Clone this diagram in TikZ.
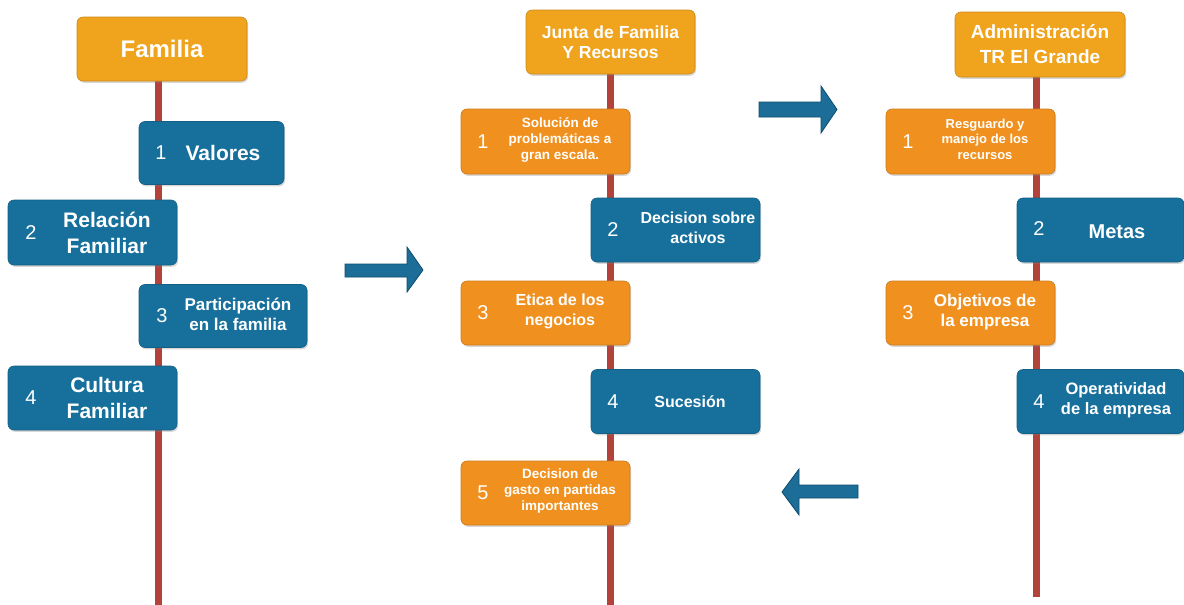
\documentclass[tikz,border=0pt]{standalone}
\usepackage{fontspec}
\setmainfont{Liberation Sans}
\usetikzlibrary{shadows}
\pgfdeclarelayer{background}
\pgfdeclarelayer{paper}
\pgfsetlayers{paper,background,main}
\definecolor{hdr}{HTML}{F0A31C}
\definecolor{org}{HTML}{F0911F}
\definecolor{blu}{HTML}{17709C}
\definecolor{rline}{HTML}{B3433A}
\definecolor{arrfill}{HTML}{1C6E98}
\definecolor{arredge}{HTML}{0E4C6E}
\newcommand\myfs[2]{\fontsize{#1}{#2}\selectfont\bfseries}
\tikzset{
  card/.style={rounded corners=6pt, inner sep=0pt, draw=#1!85!black, line width=0.6pt, fill=#1,
    drop shadow={shadow xshift=1.2pt, shadow yshift=-1.8pt, opacity=0.3}},
  num/.style={text=white, inner sep=0pt, font=\fontsize{20}{24}\selectfont},
  lbl/.style={text=white, inner sep=0pt, align=center},
  stem/.style={draw=rline, line width=7pt},
  bigarrow/.style={fill=arrfill, draw=arredge, line width=0.8pt, line join=miter}
}
\begin{document}
\begin{tikzpicture}[x=1pt,y=-1pt]
\begin{pgfonlayer}{paper}
\fill[white] (0,0) rectangle (1184,605);
\end{pgfonlayer}
\useasboundingbox (0,0) rectangle (1184,605);

% ---------- Column 1 ----------
\node[card=hdr, minimum width=170pt, minimum height=64pt, lbl, font=\myfs{24}{28}] (h1) at (162,49) {Familia};
\node[card=blu, minimum width=145pt, minimum height=63pt] (a1) at (211.5,153) {};
\node[num] (a1n) at (161,153) {1};
\node[lbl, font=\myfs{21}{26}] (a1t) at (223,153) {Valores};
\node[card=blu, minimum width=169pt, minimum height=65pt] (a2) at (92.5,232.5) {};
\node[num] (a2n) at (31,232.5) {2};
\node[lbl, font=\myfs{21}{26}] (a2t) at (107,232.5) {Relación\\Familiar};
\node[card=blu, minimum width=168pt, minimum height=63pt] (a3) at (223,316) {};
\node[num] (a3n) at (162,316) {3};
\node[lbl, font=\myfs{17}{20}] (a3t) at (238,314) {Participación\\en la familia};
\node[card=blu, minimum width=169pt, minimum height=64pt] (a4) at (92.5,398) {};
\node[num] (a4n) at (31,398) {4};
\node[lbl, font=\myfs{21}{26}] (a4t) at (107,398) {Cultura\\Familiar};
\coordinate (e1) at (158,605);

% ---------- Column 2 ----------
\node[card=hdr, minimum width=169pt, minimum height=64pt, lbl, font=\myfs{17.5}{20.5}] (h2) at (610.5,42) {Junta de Familia\\Y Recursos};
\node[card=org, minimum width=169pt, minimum height=65pt] (b1) at (545.5,141.5) {};
\node[num] (b1n) at (483,141.5) {1};
\node[lbl, font=\myfs{13.5}{16}] (b1t) at (560,140) {Solución de\\problemáticas a\\gran escala.};
\node[card=blu, minimum width=169pt, minimum height=64pt] (b2) at (675.5,230) {};
\node[num] (b2n) at (613,230) {2};
\node[lbl, font=\myfs{16}{20}] (b2t) at (698,228) {Decision sobre\\activos};
\node[card=org, minimum width=169pt, minimum height=64pt] (b3) at (545.5,313) {};
\node[num] (b3n) at (483,313) {3};
\node[lbl, font=\myfs{16}{20}] (b3t) at (560,311) {Etica de los\\negocios};
\node[card=blu, minimum width=169pt, minimum height=64pt] (b4) at (675.5,401.5) {};
\node[num] (b4n) at (613,401.5) {4};
\node[lbl, font=\myfs{16}{20}] (b4t) at (690,401.5) {Sucesión};
\node[card=org, minimum width=169pt, minimum height=64pt] (b5) at (545.5,493) {};
\node[num] (b5n) at (483,493) {5};
\node[lbl, font=\myfs{13.5}{16}] (b5t) at (560,491) {Decision de\\gasto en partidas\\importantes};
\coordinate (e2) at (610,605);

% ---------- Column 3 ----------
\node[card=hdr, minimum width=170pt, minimum height=65pt, lbl, font=\myfs{19}{25}] (h3) at (1040,44.5) {Administración\\TR El Grande};
\node[card=org, minimum width=169pt, minimum height=65pt] (c1) at (970.5,141.5) {};
\node[num] (c1n) at (908,141.5) {1};
\node[lbl, font=\myfs{13}{15.5}] (c1t) at (985,139) {Resguardo y\\manejo de los\\recursos};
\node[card=blu, minimum width=167pt, minimum height=64pt] (c2) at (1100.5,230) {};
\node[num] (c2n) at (1039,229) {2};
\node[lbl, font=\myfs{20}{24}] (c2t) at (1117,232) {Metas};
\node[card=org, minimum width=169pt, minimum height=64pt] (c3) at (970.5,313) {};
\node[num] (c3n) at (908,313) {3};
\node[lbl, font=\myfs{17}{20}] (c3t) at (985,312) {Objetivos de\\la empresa};
\node[card=blu, minimum width=167pt, minimum height=64pt] (c4) at (1100.5,401.5) {};
\node[num] (c4n) at (1039,401.5) {4};
\node[lbl, font=\myfs{16.5}{20}] (c4t) at (1116,400) {Operatividad\\de la empresa};
\coordinate (e3) at (1036,597);

% ---------- stems ----------
\begin{pgfonlayer}{background}
\draw[stem] (h1.south -| e1) -- (e1);
\draw[stem] (h2.south -| e2) -- (e2);
\draw[stem] (h3.south -| e3) -- (e3);
\end{pgfonlayer}

% ---------- block arrows ----------
\draw[bigarrow] (345,264) -- (407,264) -- (407,247) -- (423,270) -- (407,292) -- (407,277) -- (345,277) -- cycle;
\draw[bigarrow] (759,102) -- (821,102) -- (821,86) -- (837,109.5) -- (821,133) -- (821,117) -- (759,117) -- cycle;
\draw[bigarrow] (858,485) -- (799,485) -- (799,469) -- (782,492) -- (799,515) -- (799,498) -- (858,498) -- cycle;
\end{tikzpicture}
\end{document}
